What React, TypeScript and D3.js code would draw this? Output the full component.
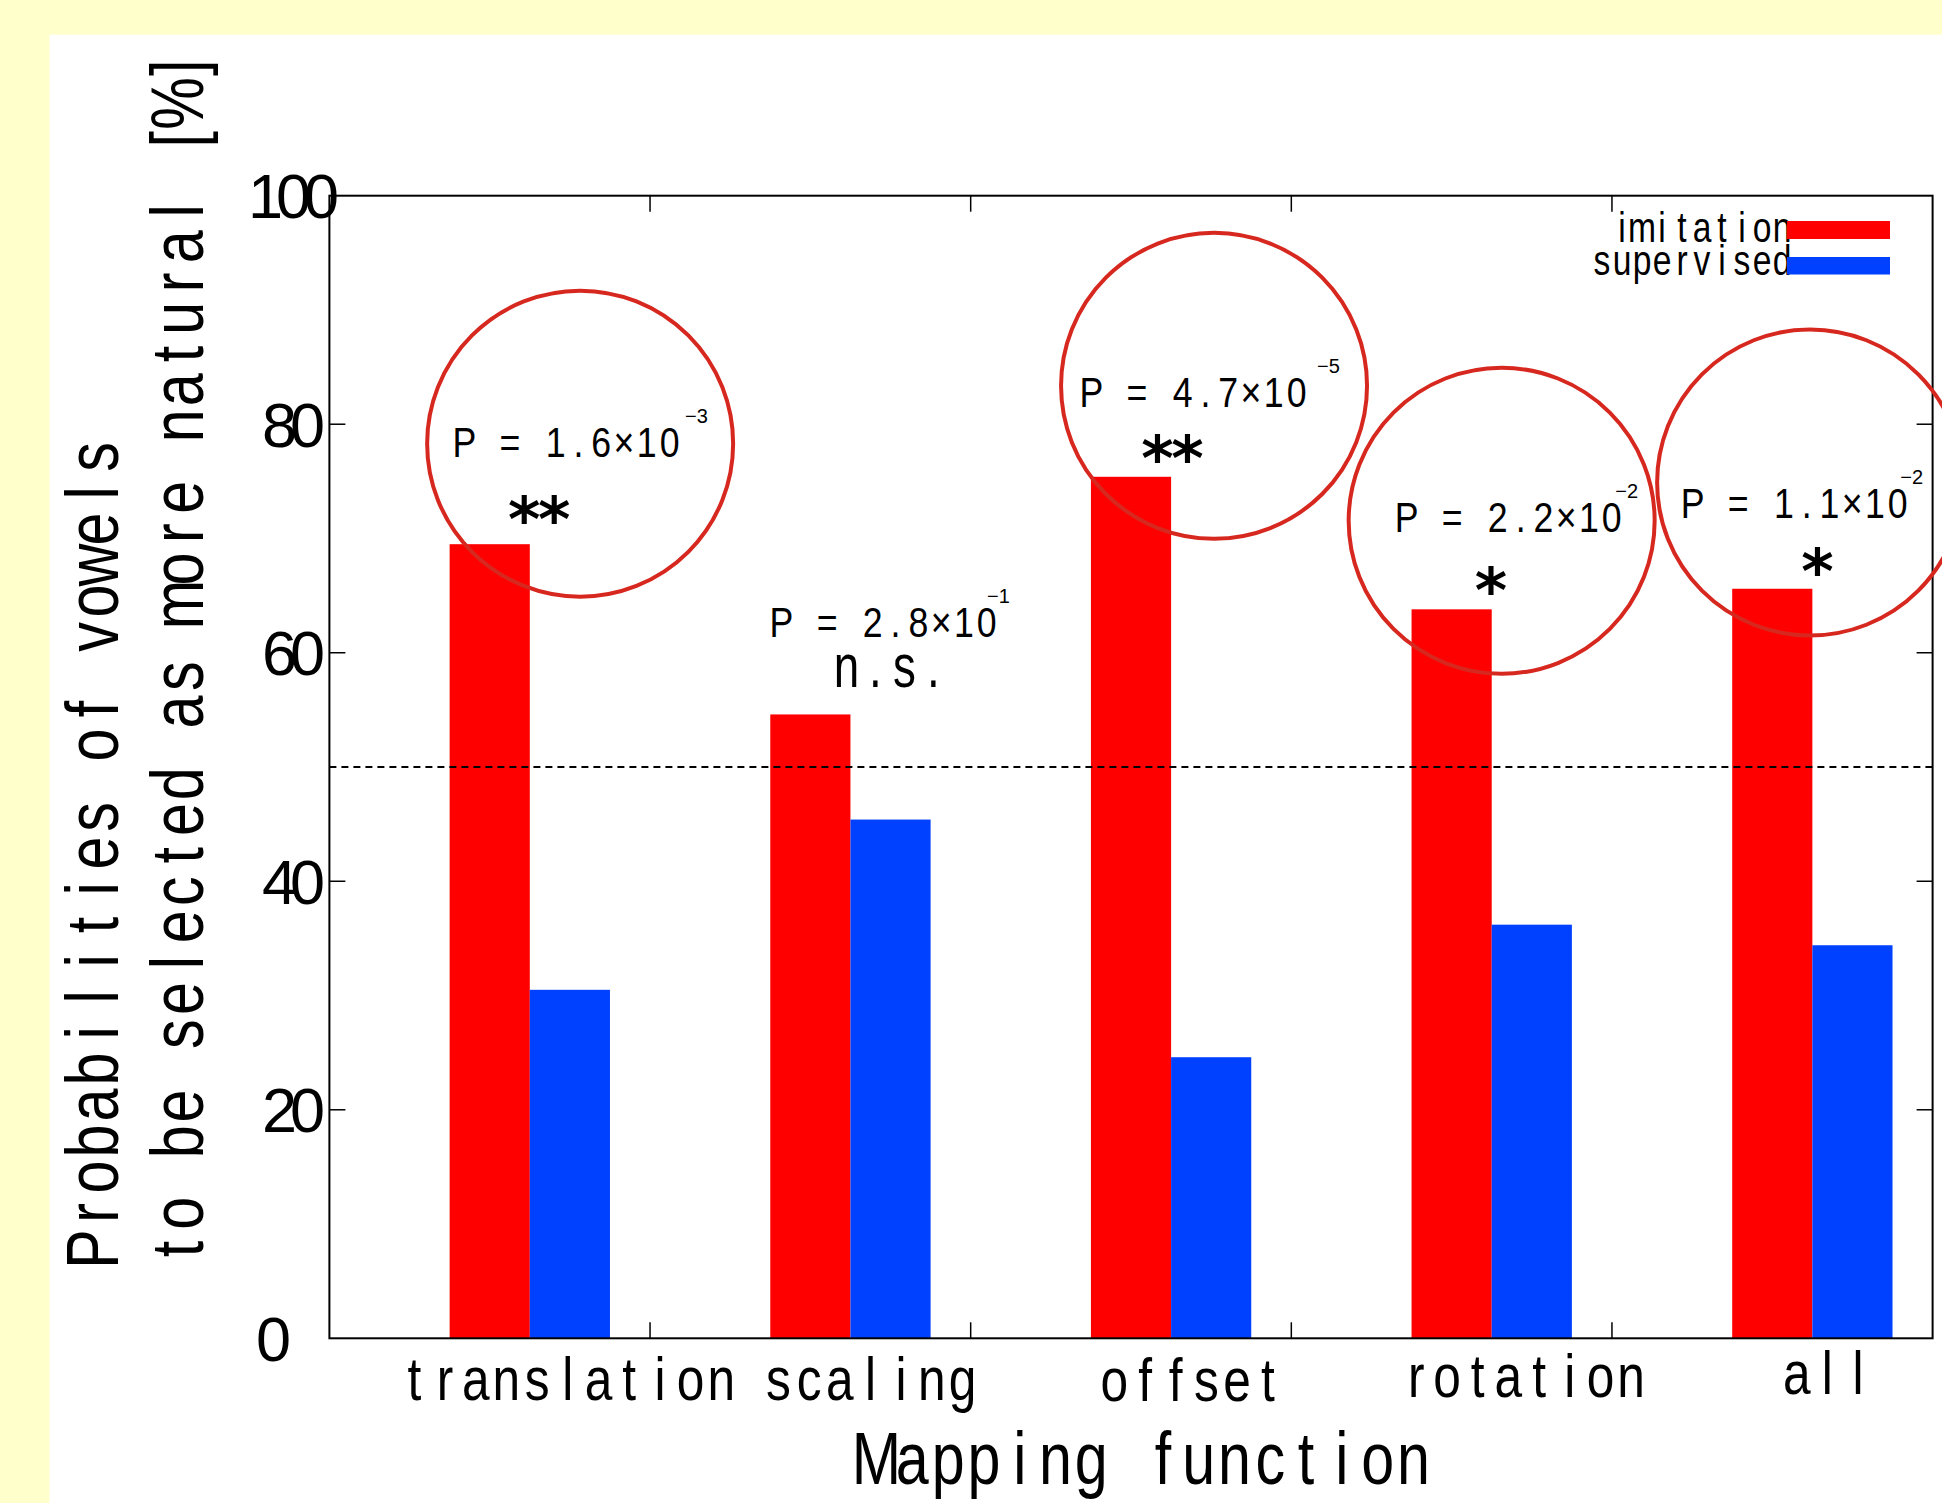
import React from "react";
import * as d3 from "d3";

// ---------- data ----------
const categories = ["translation", "scaling", "offset", "rotation", "all"];
const imitation = [69.5, 54.6, 75.4, 63.8, 65.6];
const supervised = [30.5, 45.4, 24.6, 36.2, 34.4];
const pMantissa = ["1.6", "2.8", "4.7", "2.2", "1.1"];
const pExponent = ["\u22123", "\u22121", "\u22125", "\u22122", "\u22122"];
const significance = ["**", "n.s.", "**", "*", "*"];
const yTicks = [0, 20, 40, 60, 80, 100];
const seriesNames = ["imitation", "supervised"];

// ---------- layout (data units for annotation anchors) ----------
const circleCenters = [
  { x: 0.157, y: 78.3 },
  null,
  { x: 2.134, y: 83.36 },
  { x: 3.031, y: 71.55 },
  { x: 3.993, y: 74.9 },
];
const pTextAnchor = [
  { x: -0.2395, y: 77.16, sup: 232 },
  { x: 0.7495, y: 61.4, sup: 217 },
  { x: 1.716, y: 81.53, sup: 237 },
  { x: 2.699, y: 70.59, sup: 220 },
  { x: 3.591, y: 71.77, sup: 219 },
];
const markAnchor = [
  { x: 0.029, y: 72.6 },
  { x: 1.123, y: 57.02 },
  { x: 2.004, y: 77.96 },
  { x: 2.998, y: 66.37 },
  { x: 4.016, y: 68.03 },
];
const xLabelLayout = [
  { dx: 38, y: 1400 },
  { dx: 20, y: 1400 },
  { dx: 20, y: 1401 },
  { dx: 32, y: 1397 },
  { dx: 15, y: 1394 },
];

const W = 1942;
const H = 1503;
const M = { left: 329.4, right: 1932.6, top: 195.7, bottom: 1338.3 };
const RED = "#FF0000";
const BLUE = "#0040FF";
const CIRCLE = "#D7281F";
const SANS = "'Liberation Sans', Arial, sans-serif";

type MonoProps = {
  x: number;
  y: number;
  text: string;
  cell: number;
  size: number;
  sx?: number;
  anchor?: "start" | "middle" | "end";
  rotate?: number;
  family?: string;
  weight?: string | number;
};

function MonoText({ x, y, text, cell, size, sx = 0.8, anchor = "start", rotate = 0, family = SANS, weight = "normal" }: MonoProps) {
  const chars = Array.from(text);
  const total = chars.length * cell;
  const start = anchor === "start" ? 0 : anchor === "middle" ? -total / 2 : -total;
  const xs = chars.map((_, i) => ((start + (i + 0.5) * cell) / sx).toFixed(2));
  return (
    <text
      transform={`translate(${x},${y}) rotate(${rotate}) scale(${sx},1)`}
      x={xs.join(" ")}
      y={0}
      textAnchor="middle"
      fontSize={size}
      fontFamily={family}
      fontWeight={weight}
      fill="#000"
      style={{ whiteSpace: "pre" }}
    >
      {text}
    </text>
  );
}

export default function App() {
  const x = d3.scaleLinear().domain([-0.625, 4.375]).range([M.left, M.right]);
  const y = d3.scaleLinear().domain([0, 100]).range([M.bottom, M.top]);
  const barW = x(0.25) - x(0);
  const catTicks = d3.range(categories.length - 1).map((i) => i + 0.375);
  const innerTicks = yTicks.filter((t) => t > 0 && t < 100);

  return (
    <svg
      width={W}
      height={H}
      viewBox={`0 0 ${W} ${H}`}
      style={{ position: "fixed", left: 0, top: 0, display: "block" }}
    >
      <rect x={0} y={0} width={W} height={H} fill="#FFFFCC" />
      <rect x={49.5} y={34.7} width={W - 49.5} height={H - 34.7} fill="#FFFFFF" />

      {/* bars */}
      {categories.map((c, i) => (
        <g key={c}>
          <rect x={x(i) - barW} y={y(imitation[i])} width={barW} height={y(0) - y(imitation[i])} fill={RED} />
          <rect x={x(i)} y={y(supervised[i])} width={barW} height={y(0) - y(supervised[i])} fill={BLUE} />
        </g>
      ))}

      {/* 50% reference line */}
      <line x1={M.left} x2={M.right} y1={y(50)} y2={y(50)} stroke="#000" strokeWidth={2} strokeDasharray="7 5" />

      {/* frame */}
      <rect x={M.left} y={M.top} width={M.right - M.left} height={M.bottom - M.top} fill="none" stroke="#000" strokeWidth={2} />
      {innerTicks.map((t) => (
        <g key={"yt" + t}>
          <line x1={M.left} x2={M.left + 16} y1={y(t)} y2={y(t)} stroke="#000" strokeWidth={1.5} />
          <line x1={M.right} x2={M.right - 16} y1={y(t)} y2={y(t)} stroke="#000" strokeWidth={1.5} />
        </g>
      ))}
      {catTicks.map((t) => (
        <g key={"xt" + t}>
          <line x1={x(t)} x2={x(t)} y1={M.bottom} y2={M.bottom - 16} stroke="#000" strokeWidth={1.5} />
          <line x1={x(t)} x2={x(t)} y1={M.top} y2={M.top + 16} stroke="#000" strokeWidth={1.5} />
        </g>
      ))}

      {/* y tick labels */}
      {yTicks.map((t) => (
        <text
          key={"yl" + t}
          x={t === 0 ? 270 : 290}
          y={y(t) + 22.5}
          textAnchor="middle"
          fontSize={63}
          fontFamily={SANS}
          letterSpacing={-7}
          fill="#000"
        >
          {t}
        </text>
      ))}

      {/* x tick labels */}
      {categories.map((c, i) => (
        <MonoText key={"xl" + c} x={x(i) + xLabelLayout[i].dx} y={xLabelLayout[i].y} text={c} cell={30.7} size={62} sx={0.8} anchor="middle" />
      ))}

      {/* axis titles */}
      <MonoText x={1145} y={1484} text="Mapping function" cell={35.8} size={74} sx={0.8} anchor="middle" />
      <MonoText x={118} y={1267} text="Probabilities of vowels" cell={36} size={74} sx={0.8} rotate={-90} />
      <MonoText x={203} y={1267} text="to be selected as more natural [%]" cell={35.8} size={74} sx={0.8} rotate={-90} />

      {/* legend */}
      <MonoText x={1792} y={242} text={seriesNames[0]} cell={20} size={42} sx={0.8} anchor="end" />
      <MonoText x={1792} y={275} text={seriesNames[1]} cell={20} size={42} sx={0.8} anchor="end" />
      <rect x={1787} y={221} width={103} height={18} fill={RED} />
      <rect x={1787} y={257} width={103} height={17.5} fill={BLUE} />

      {/* significance circles */}
      {circleCenters.map((cc, i) =>
        cc ? <circle key={"c" + i} cx={x(cc.x)} cy={y(cc.y)} r={153} fill="none" stroke={CIRCLE} strokeWidth={4} /> : null
      )}

      {/* p-values */}
      {categories.map((c, i) => {
        const a = pTextAnchor[i];
        const px = x(a.x);
        const py = y(a.y);
        return (
          <g key={"p" + c}>
            <MonoText x={px} y={py} text={`P = ${pMantissa[i]}\u00D710`} cell={22.8} size={42} sx={0.85} />
            <text x={px + a.sup} y={py - 34} fontSize={20} fontFamily={SANS} fill="#000">
              {pExponent[i]}
            </text>
          </g>
        );
      })}

      {/* significance marks */}
      {categories.map((c, i) => {
        const m = markAnchor[i];
        const s = significance[i];
        if (s === "n.s.") {
          return <MonoText key={"m" + c} x={x(m.x)} y={y(m.y)} text={s} cell={29} size={61} sx={0.75} anchor="middle" />;
        }
        return (
          <MonoText
            key={"m" + c}
            x={x(m.x)}
            y={y(m.y) + 32}
            text={s}
            cell={30}
            size={62}
            sx={1}
            anchor="middle"
            family="'DejaVu Sans', sans-serif"
            weight="bold"
          />
        );
      })}
    </svg>
  );
}
